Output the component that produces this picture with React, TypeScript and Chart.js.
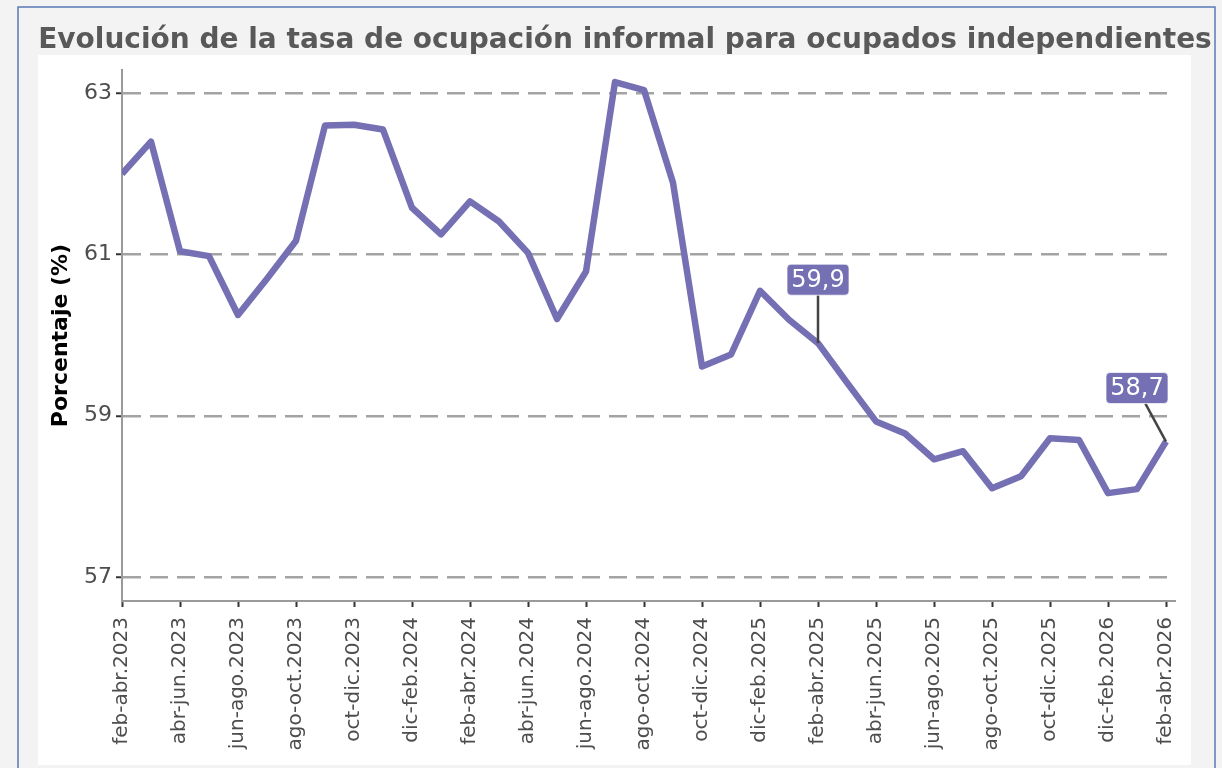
import React, { useEffect, useRef } from 'react';
import { Chart, registerables } from 'chart.js';

Chart.register(...registerables);

const TITLE = 'Evolución de la tasa de ocupación informal para ocupados independientes';
const Y_TITLE = 'Porcentaje (%)';

const periods = [
  'feb-abr.2023', 'mar-may.2023', 'abr-jun.2023', 'may-jul.2023', 'jun-ago.2023', 'jul-sep.2023',
  'ago-oct.2023', 'sep-nov.2023', 'oct-dic.2023', 'nov-ene.2024', 'dic-feb.2024', 'ene-mar.2024',
  'feb-abr.2024', 'mar-may.2024', 'abr-jun.2024', 'may-jul.2024', 'jun-ago.2024', 'jul-sep.2024',
  'ago-oct.2024', 'sep-nov.2024', 'oct-dic.2024', 'nov-ene.2025', 'dic-feb.2025', 'ene-mar.2025',
  'feb-abr.2025', 'mar-may.2025', 'abr-jun.2025', 'may-jul.2025', 'jun-ago.2025', 'jul-sep.2025',
  'ago-oct.2025', 'sep-nov.2025', 'oct-dic.2025', 'nov-ene.2026', 'dic-feb.2026', 'ene-mar.2026',
  'feb-abr.2026',
];

const tasaInformal = [
  62.0, 62.4, 61.04, 60.98, 60.25, 60.7, 61.17, 62.6, 62.61, 62.55, 61.58, 61.25,
  61.66, 61.41, 61.02, 60.2, 60.79, 63.14, 63.04, 61.89, 59.61, 59.76, 60.55, 60.19,
  59.9, 59.41, 58.93, 58.78, 58.46, 58.56, 58.1, 58.25, 58.72, 58.7, 58.04, 58.09,
  58.68,
];

const yTicks = [57, 59, 61, 63];
const labeledIndices = [24, 36];

const LINE_COLOR = '#7570b3';
const FONT = '"DejaVu Sans", "Liberation Sans", Arial, sans-serif';

const framePlugin = {
  id: 'frame',
  beforeDraw(chart: any) {
    const { ctx, width, height } = chart;
    ctx.save();
    ctx.fillStyle = '#f3f3f3';
    ctx.fillRect(0, 0, width, height);
    ctx.strokeStyle = '#5a7ab5';
    ctx.lineWidth = 1.5;
    ctx.strokeRect(18, 7, 1197, 820);
    ctx.fillStyle = '#ffffff';
    ctx.fillRect(38, 55, 1153, 710);
    ctx.font = `bold 28px ${FONT}`;
    ctx.fillStyle = '#595959';
    ctx.textAlign = 'center';
    ctx.textBaseline = 'alphabetic';
    ctx.fillText(TITLE, 625, 48);
    ctx.restore();
  },
};

const labelOffsets: Record<number, { dx: number; dy: number }> = {
  24: { dx: 0, dy: -63.5 },
  36: { dx: -29, dy: -53.5 },
};

const valueLabelPlugin = {
  id: 'valueLabels',
  afterDatasetsDraw(chart: any) {
    const { ctx } = chart;
    const xs = chart.scales.x;
    const ys = chart.scales.y;
    const bw = 62;
    const bh = 31;
    ctx.save();
    labeledIndices.forEach((idx) => {
      const v = tasaInformal[idx];
      const px = xs.getPixelForValue(idx);
      const py = ys.getPixelForValue(v);
      const off = labelOffsets[idx] || { dx: 0, dy: -60 };
      const cx = px + off.dx;
      const cy = py + off.dy;
      const vx = px - cx;
      const vy = py - cy;
      const s = Math.min(
        vx === 0 ? Infinity : bw / 2 / Math.abs(vx),
        vy === 0 ? Infinity : bh / 2 / Math.abs(vy)
      );
      const ex = cx + vx * s;
      const ey = cy + vy * s;
      ctx.strokeStyle = '#444444';
      ctx.lineWidth = 2.5;
      ctx.beginPath();
      ctx.moveTo(ex, ey);
      ctx.lineTo(px, py);
      ctx.stroke();

      const x0 = cx - bw / 2;
      const y0 = cy - bh / 2;
      ctx.beginPath();
      if (ctx.roundRect) ctx.roundRect(x0, y0, bw, bh, 4);
      else ctx.rect(x0, y0, bw, bh);
      ctx.fillStyle = LINE_COLOR;
      ctx.fill();
      ctx.strokeStyle = 'rgba(255,255,255,0.7)';
      ctx.lineWidth = 1;
      ctx.stroke();

      ctx.fillStyle = '#ffffff';
      ctx.font = `24px ${FONT}`;
      ctx.textAlign = 'center';
      ctx.textBaseline = 'middle';
      ctx.fillText(v.toFixed(1).replace('.', ','), cx, cy + 1);
    });
    ctx.restore();
  },
};

export default function App() {
  const canvasRef = useRef<HTMLCanvasElement | null>(null);

  useEffect(() => {
    const canvas = canvasRef.current;
    if (!canvas) return;
    const chart = new Chart(canvas, {
      type: 'line',
      data: {
        datasets: [
          {
            label: Y_TITLE,
            data: tasaInformal.map((v, i) => ({ x: i, y: v })),
            borderColor: LINE_COLOR,
            backgroundColor: LINE_COLOR,
            borderWidth: 6.5,
            borderJoinStyle: 'round',
            pointRadius: 0,
            pointHoverRadius: 0,
            tension: 0,
            fill: false,
          },
        ],
      },
      options: {
        animation: false,
        responsive: false,
        devicePixelRatio: 1,
        events: [],
        layout: { padding: { top: 70, left: 40, right: 47, bottom: 0 } },
        plugins: {
          legend: { display: false },
          tooltip: { enabled: false },
          title: { display: false },
        },
        scales: {
          x: {
            type: 'linear',
            min: 0,
            max: 36.31,
            bounds: 'data',
            afterBuildTicks: (axis: any) => {
              axis.ticks = periods
                .map((_, i) => ({ value: i }))
                .filter((t) => t.value % 2 === 0);
            },
            afterFit: (s: any) => {
              s.height = 167;
            },
            grid: {
              drawOnChartArea: false,
              drawTicks: true,
              tickLength: 6,
              tickColor: '#333333',
              tickWidth: 2,
            },
            border: { display: true, color: '#9a9a9a', width: 2 },
            ticks: {
              autoSkip: false,
              maxRotation: 90,
              minRotation: 90,
              padding: 10,
              color: '#4d4d4d',
              font: { family: FONT, size: 20 },
              callback: (v: any) => periods[v] ?? '',
            },
          },
          y: {
            type: 'linear',
            min: 56.702,
            max: 63.289,
            afterBuildTicks: (axis: any) => {
              axis.ticks = yTicks.map((v) => ({ value: v }));
            },
            afterFit: (s: any) => {
              s.width = 82;
            },
            grid: {
              color: '#a3a3a3',
              lineWidth: 2.5,
              drawTicks: true,
              tickLength: 6,
              tickColor: '#333333',
              tickWidth: 2,
              tickBorderDash: [],
            },
            border: { display: true, color: '#9a9a9a', width: 2, dash: [18, 9] },
            ticks: {
              padding: 4,
              color: '#4d4d4d',
              font: { family: FONT, size: 22 },
              callback: (v: any) => String(v),
            },
            title: {
              display: true,
              text: Y_TITLE,
              color: '#000000',
              font: { family: FONT, size: 22, weight: 'bold' },
              padding: { top: 8, bottom: 0 },
            },
          },
        },
      },
      plugins: [framePlugin, valueLabelPlugin],
    } as any);
    return () => chart.destroy();
  }, []);

  return (
    <div style={{ position: 'fixed', left: 0, top: 0, width: 1222, height: 768, overflow: 'hidden' }}>
      <canvas ref={canvasRef} width={1222} height={768} style={{ display: 'block', width: 1222, height: 768 }} />
    </div>
  );
}
